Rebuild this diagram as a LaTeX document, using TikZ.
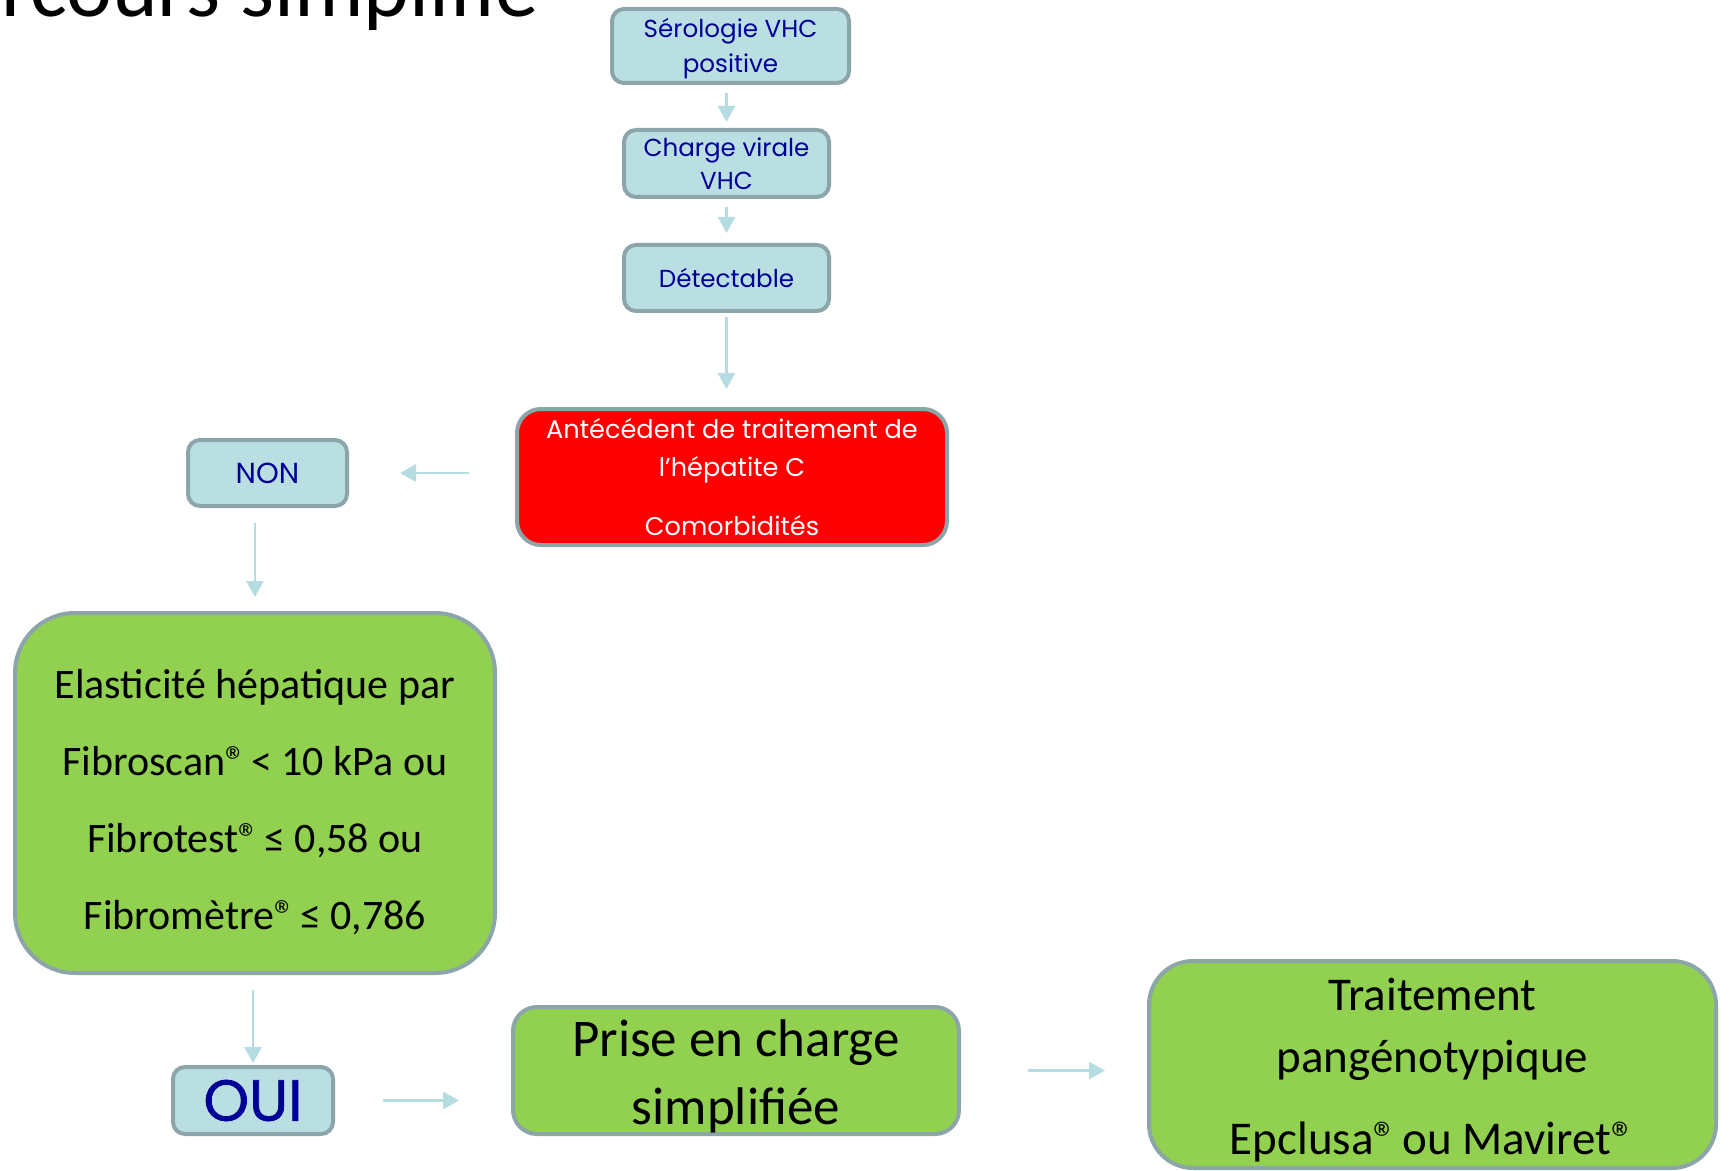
\documentclass[tikz,border=0pt]{standalone}
\usepackage{fontspec}
\setmainfont{Carlito}
\newfontfamily\tw{Poppins}
\newfontfamily\twb[FakeBold=1.2]{Poppins}
\usetikzlibrary{arrows.meta}
\definecolor{lblue}{HTML}{BADFE3}
\definecolor{bgrey}{HTML}{8CA5A9}
\definecolor{arrcol}{HTML}{B5DCE0}
\definecolor{navy}{HTML}{000096}
\definecolor{lgreen}{HTML}{92D050}
\definecolor{vred}{HTML}{FF0000}
\newcommand\regmark{®\kern-0.12em}
\tikzset{
  box/.style={draw=bgrey, line width=2pt, inner sep=0pt, align=center},
  bluebox/.style={box, fill=lblue, text=navy, rounded corners=6pt},
  greenbox/.style={box, fill=lgreen, text=black},
  redbox/.style={box, fill=vred, text=white, rounded corners=12pt},
  txt/.style={inner sep=0pt, align=center},
  arr/.style={draw=arrcol, line width=1.4pt, -{Triangle[length=8pt,width=8.5pt]}}
}
\begin{document}
\begin{tikzpicture}[x=0.5pt,y=-0.5pt]
\useasboundingbox (0,0) rectangle (1733,1171);
\clip (0,0) rectangle (1733,1171);
\fill[white] (0,0) rectangle (1733,1171);
% title (cut off at top)
\node[anchor=base west, inner sep=0pt, font=\fontsize{43.5pt}{48pt}\selectfont] (title) at (-84,17) {Parcours simplifié};

\node[bluebox, minimum width=118.5pt, minimum height=37pt] (ser) at (730.5,46) {};
\node[txt, text=navy, font=\tw\fontsize{12.3pt}{17.5pt}\selectfont] (sert) at (730.5,48.5) {Sérologie VHC\\positive};
\node[bluebox, minimum width=102.5pt, minimum height=33.5pt, font=\tw\fontsize{12.3pt}{16.5pt}\selectfont] (chg) at (726.5,163.5) {Charge virale\\VHC};
\node[bluebox, minimum width=102.5pt, minimum height=33pt, font=\tw\fontsize{12.3pt}{16.5pt}\selectfont] (det) at (726.5,278) {Détectable};
\node[redbox, minimum width=215pt, minimum height=68pt, font=\tw\fontsize{12.8pt}{19pt}\selectfont] (red) at (732,477) {Antécédent de traitement de\\l’hépatite C\\[10.5pt]Comorbidités};
\node[bluebox, minimum width=79.5pt, minimum height=33pt, font=\tw\fontsize{14.5pt}{17pt}\selectfont] (non) at (267.5,473) {NON};
\node[greenbox, rounded corners=30pt, minimum width=240pt, minimum height=180pt] (ela) at (255,793) {};
\node[txt, font=\fontsize{21pt}{38.5pt}\selectfont] (elat) at (255,802) {Elasticité hépatique par\\Fibroscan\regmark{} < 10 kPa ou\\Fibrotest\regmark{} ≤ 0,58 ou\\Fibromètre\regmark{} ≤ 0,786};
\node[bluebox, minimum width=80pt, minimum height=33.5pt, font=\twb\fontsize{29pt}{32pt}\selectfont] (oui) at (253,1100.5) {OUI};
\node[greenbox, rounded corners=12pt, minimum width=223pt, minimum height=63.5pt] (pri) at (736,1070.5) {};
\node[txt, font=\fontsize{26.5pt}{34pt}\selectfont] (prit) at (736,1076) {Prise en charge\\simplifiée};
\node[greenbox, rounded corners=22pt, minimum width=283.5pt, minimum height=103.5pt] (tra) at (1432.5,1064.5) {};
\node[txt, font=\fontsize{23.5pt}{31pt}\selectfont] (trat) at (1432.5,1070) {Traitement\\pangénotypique\\[10pt]Epclusa\regmark{} ou Maviret®};

\draw[arr, shorten <=4pt, shorten >=3pt] (ser.south -| chg.north) -- (chg.north);
\draw[arr, shorten <=4pt, shorten >=5pt] (chg.south) -- (det.north);
\draw[arr, shorten <=2pt, shorten >=9pt] (det.south) -- (red.north -| det.south);
\draw[arr, shorten <=23pt, shorten >=25.5pt] (red.west |- non.east) -- (non.east);
\draw[arr, shorten <=7.5pt, shorten >=7pt] (non.south -| ela.north) -- (ela.north);
\draw[arr, shorten <=7.5pt, shorten >=1pt] (ela.south -| oui.north) -- (oui.north);
\draw[arr, shorten <=24pt, shorten >=26pt] (oui.east) -- (oui.east -| pri.west);
\draw[arr, shorten <=33.5pt, shorten >=21pt] (pri.east) -- (pri.east -| tra.west);
\end{tikzpicture}
\end{document}
